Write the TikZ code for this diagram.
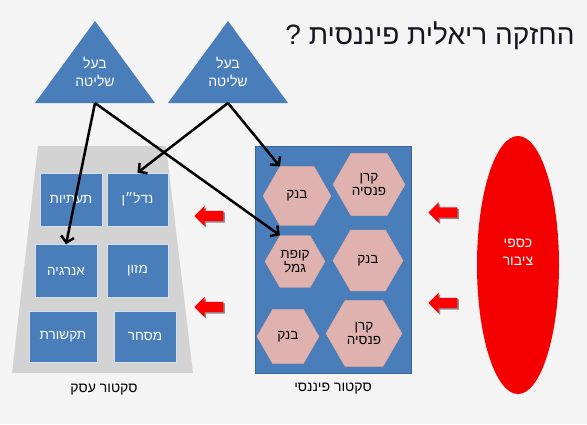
\documentclass[tikz,border=0pt]{standalone}
\usepackage{fontspec}
\setmainfont{Liberation Sans}
\newfontfamily\hebfont[Script=Hebrew]{Liberation Sans}
\TeXXeTstate=1
\usepackage{tikz}
\usetikzlibrary{positioning,shapes.geometric,shapes.arrows,shadows,arrows.meta}
\tikzset{>={Straight Barb[length=6pt,width=13pt]}}
\definecolor{bgcol}{HTML}{F4F4F4}
\definecolor{sectgray}{HTML}{D3D3D3}
\definecolor{boxblue}{HTML}{4A7EBB}
\definecolor{hexpink}{HTML}{DFB2B0}
\definecolor{pubred}{HTML}{F50000}
\definecolor{titlecol}{HTML}{15151F}
\NewDocumentCommand\heb{m}{\beginR #1\endR}
\tikzset{
  industry/.style={draw=white!75!boxblue, fill=boxblue, text=white, inner sep=0pt,
    minimum height=53, font=\hebfont\fontsize{13.5}{15}\selectfont},
  firm/.style={regular polygon, regular polygon sides=6, fill=hexpink, draw=hexpink!85!orange,
    inner sep=0pt, align=center, font=\hebfont\fontsize{13.5}{14}\selectfont},
  flow/.style={single arrow, shape border rotate=180, fill=red, inner xsep=0pt, inner ysep=5pt,
    minimum height=29, single arrow head extend=5pt, single arrow tip angle=90,
    drop shadow={shadow xshift=1.5pt, shadow yshift=-1.5pt, fill=black!55, opacity=.8}},
  sectorlbl/.style={font=\hebfont\fontsize{14}{16}\selectfont},
}

\begin{document}
\begin{tikzpicture}[x=1pt, y=-1pt]
    \path[use as bounding box, fill=bgcol] (0,0) rectangle (587,424);

    \node[font=\hebfont\fontsize{28}{32}\selectfont, text=titlecol] (title) at (430,36)
      {\heb{החזקה ריאלית פיננסית ?}};

    % controlling owners
    \fill[boxblue] (35,103) -- (95,21) -- (155,103) -- cycle;
    \fill[boxblue] (168,103) -- (228,21) -- (288,103) -- cycle;
    \coordinate (own1) at (95,103);
    \coordinate (own2) at (228,103);
    \node[text=white, align=center, font=\hebfont\fontsize{14}{18}\selectfont] (own1lbl) at (95,72)
      {\heb{בעל}\\\heb{שליטה}};
    \node[text=white, align=center, font=\hebfont\fontsize{14}{18}\selectfont] (own2lbl) at (228,72)
      {\heb{בעל}\\\heb{שליטה}};

    % business sector
    \fill[sectgray] (38,146) -- (166,146) -- (193,373) -- (12,373) -- cycle;
    \node[industry, minimum width=62] (infra)  at (71,199.5)  {\heb{תעתיות}};
    \node[industry, minimum width=61] (realty) at (137.5,199.5) {\heb{נדל״ן}};
    \node[industry, minimum width=62] (energy) at (66,271)    {\heb{אנרגיה}};
    \node[industry, minimum width=61] (food)   at (137.5,271) {\heb{מזון}};
    \node[industry, minimum width=68, minimum height=51] (telecom) at (63,336.5)  {\heb{תקשורת}};
    \node[industry, minimum width=62, minimum height=51] (trade)   at (145,336.5) {\heb{מסחר}};
    \node[sectorlbl] (bizlbl) at (104,390) {\heb{סקטור עסק}};

    % financial sector
    \node[fill=boxblue, draw=boxblue!80!black, minimum width=156, minimum height=227] (fin) at (333,259.5) {};
    \node[firm, minimum size=68] (bank1)    at (297,196)   {\heb{בנק}};
    \node[firm, minimum size=72] (pension1) at (369,184.5) {\heb{קרן}\\\heb{פנסיה}};
    \node[firm, minimum size=60] (gemel)    at (295,261.5) {\heb{קופת}\\\heb{גמל}};
    \node[firm, minimum size=70] (bank2)    at (368,260.5) {\heb{בנק}};
    \node[firm, minimum size=62] (bank3)    at (288,336.5) {\heb{בנק}};
    \node[firm, minimum size=76] (pension2) at (364,333.5) {\heb{קרן}\\\heb{פנסיה}};
    \node[sectorlbl] (finlbl) at (333,389) {\heb{סקטור פיננסי}};

    % public money
    \node[ellipse, fill=pubred, minimum width=82, minimum height=258, inner sep=0pt] (public) at (518,265) {};
    \node[text=white, align=center, font=\hebfont\fontsize{14}{18}\selectfont] (publbl) at (518,252)
      {\heb{כספי}\\\heb{ציבור}};

    \node[flow] (flow1) at (211.5,216) {};
    \node[flow] (flow2) at (211.5,307) {};
    \node[flow] (flow3) at (445.5,212.5) {};
    \node[flow] (flow4) at (445.5,303) {};

    \path[->, line width=2.5pt]
      (own1) edge (energy.north)
      (own1) edge (gemel.120)
      (own2) edge (realty.north)
      (own2) edge (bank1.120);
\end{tikzpicture}
\end{document}
